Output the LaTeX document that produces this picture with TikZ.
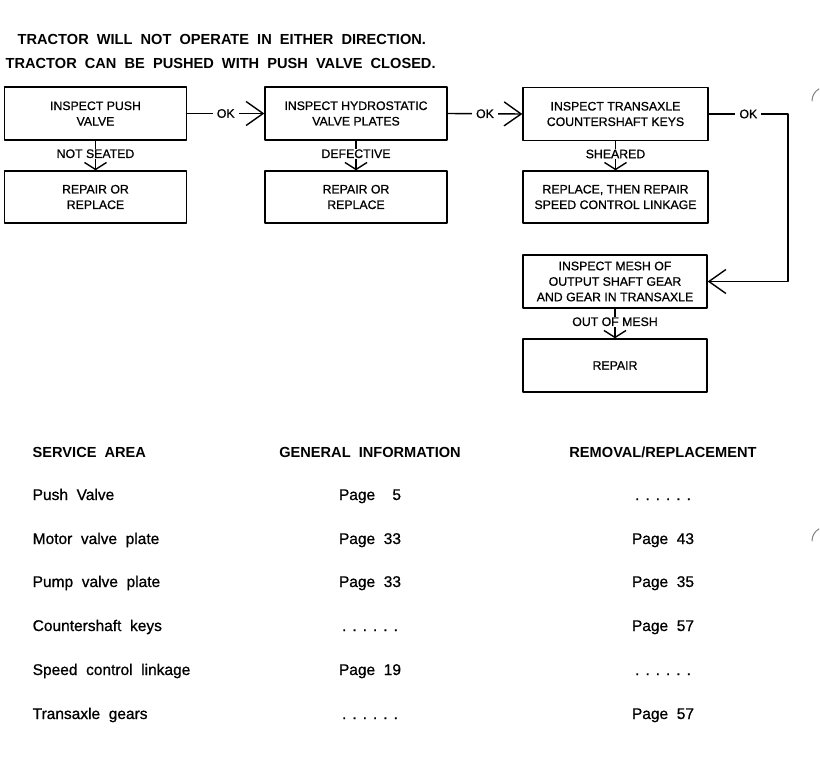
\documentclass[tikz,border=0pt]{standalone}
\usepackage{fontspec}
\setmainfont{Liberation Sans}
\newfontfamily\boxfont[FakeBold=0.8]{Liberation Sans}
\usetikzlibrary{positioning, arrows.meta}

% dotted filler used in the table
\newcommand{\nopage}{.\hspace{6pt}.\hspace{6pt}.\hspace{6pt}.\hspace{6pt}.\hspace{6pt}.}

\tikzset{
  stepbox/.style={draw, line width=1.4pt, minimum width=182pt, minimum height=53pt,
    inner sep=2pt, align=center, font=\boxfont\fontsize{12.3}{15.5}\selectfont},
  oklabel/.style={fill=white, inner sep=4pt, font=\boxfont\fontsize{12.3}{13}\selectfont},
  faillabel/.style={fill=white, inner sep=0.5pt, font=\boxfont\fontsize{12.3}{13}\selectfont},
  sidetip/.style={-{Straight Barb[length=17pt, width=24pt, line width=1.4pt]}},
  downtip/.style={-{Straight Barb[length=7pt, width=22pt, line width=1.4pt]}},
  headtext/.style={inner sep=0pt, font=\fontsize{14.6}{16}\bfseries},
  celltext/.style={inner sep=0pt, font=\boxfont\fontsize{15.5}{17}\selectfont},
}

\begin{document}
\begin{tikzpicture}[x=1pt, y=-1pt, line width=1.4pt, line cap=round, line join=round]
  \useasboundingbox (0,0) rectangle (820,768);
  % title
  \node[headtext, anchor=base west] (title1) at (17,45) {TRACTOR\ \ WILL\ \ NOT\ \ OPERATE\ \ IN\ \ EITHER\ \ DIRECTION.};
  \node[headtext, anchor=base west] (title2) at (5,69) {TRACTOR\ \ CAN\ \ BE\ \ PUSHED\ \ WITH\ \ PUSH\ \ VALVE\ \ CLOSED.};

  % inspection steps
  \node[stepbox] (push) at (95.5,113.5) {INSPECT PUSH\\VALVE};
  \node[stepbox] (plates) at (356,113.5) {INSPECT HYDROSTATIC\\VALVE PLATES};
  \node[stepbox, minimum width=185pt] (keys) at (615.5,114) {INSPECT TRANSAXLE\\COUNTERSHAFT KEYS};
  \node[stepbox, minimum width=184pt] (mesh) at (615,281.5) {INSPECT MESH OF\\OUTPUT SHAFT GEAR\\AND GEAR IN TRANSAXLE};

  % remedies
  \node[stepbox, minimum height=52pt] (pushfix) at (95.5,197) {REPAIR OR\\REPLACE};
  \node[stepbox, minimum height=52pt] (platesfix) at (356,197) {REPAIR OR\\REPLACE};
  \node[stepbox, minimum width=185pt, minimum height=52pt] (keysfix) at (615.5,197) {REPLACE, THEN REPAIR\\SPEED CONTROL LINKAGE};
  \node[stepbox, minimum width=184pt] (meshfix) at (615,365.5) {REPAIR};

  % OK paths
  \draw[sidetip] (push.east) -- node[oklabel] (ok1) {OK} (plates.west);
  \draw[sidetip] (plates.east) -- node[oklabel] (ok2) {OK} (keys.west);
  \coordinate (turn) at (788,114);
  \draw[sidetip] (keys.east) -- node[oklabel] (ok3) {OK} (turn) |- (mesh.east);

  % failure paths
  \draw[downtip] (push.south) -- node[faillabel, pos=0.44] (f1) {NOT SEATED} (pushfix.north);
  \draw[downtip] (plates.south) -- node[faillabel, pos=0.44] (f2) {DEFECTIVE} (platesfix.north);
  \draw[downtip] (keys.south) -- node[faillabel, pos=0.44] (f3) {SHEARED} (keysfix.north);
  \draw[downtip] (mesh.south) -- node[faillabel, pos=0.44] (f4) {OUT OF MESH} (meshfix.north);

  % service table
  \node[headtext, anchor=base west] (hdarea) at (32,457) {SERVICE\ \ AREA};
  \node[headtext, anchor=base] (hdinfo) at (370,457) {GENERAL\ \ INFORMATION};
  \node[headtext, anchor=base] (hdrem) at (663,457) {REMOVAL/REPLACEMENT};
  \foreach \i/\yy/\area/\info/\rem in {
      1/500/Push\ \ Valve/Page\ \ \phantom{3}5/\nopage,
      2/544/Motor\ \ valve\ \ plate/Page\ \ 33/Page\ \ 43,
      3/587/Pump\ \ valve\ \ plate/Page\ \ 33/Page\ \ 35,
      4/631/Countershaft\ \ keys/\nopage/Page\ \ 57,
      5/675/Speed\ \ control\ \ linkage/Page\ \ 19/\nopage,
      6/719/Transaxle\ \ gears/\nopage/Page\ \ 57}{
    \node[celltext, anchor=base west] (area\i) at (32,\yy) {\area};
    \node[celltext, anchor=base] (info\i) at (370,\yy) {\info};
    \node[celltext, anchor=base] (rem\i) at (663,\yy) {\rem};
  }

  % binder marks at the right edge
  \draw[gray, line width=1pt] (812,101) arc[start angle=180, end angle=240, radius=14];
  \draw[gray, line width=1pt] (812,541) arc[start angle=180, end angle=240, radius=14];
\end{tikzpicture}
\end{document}
